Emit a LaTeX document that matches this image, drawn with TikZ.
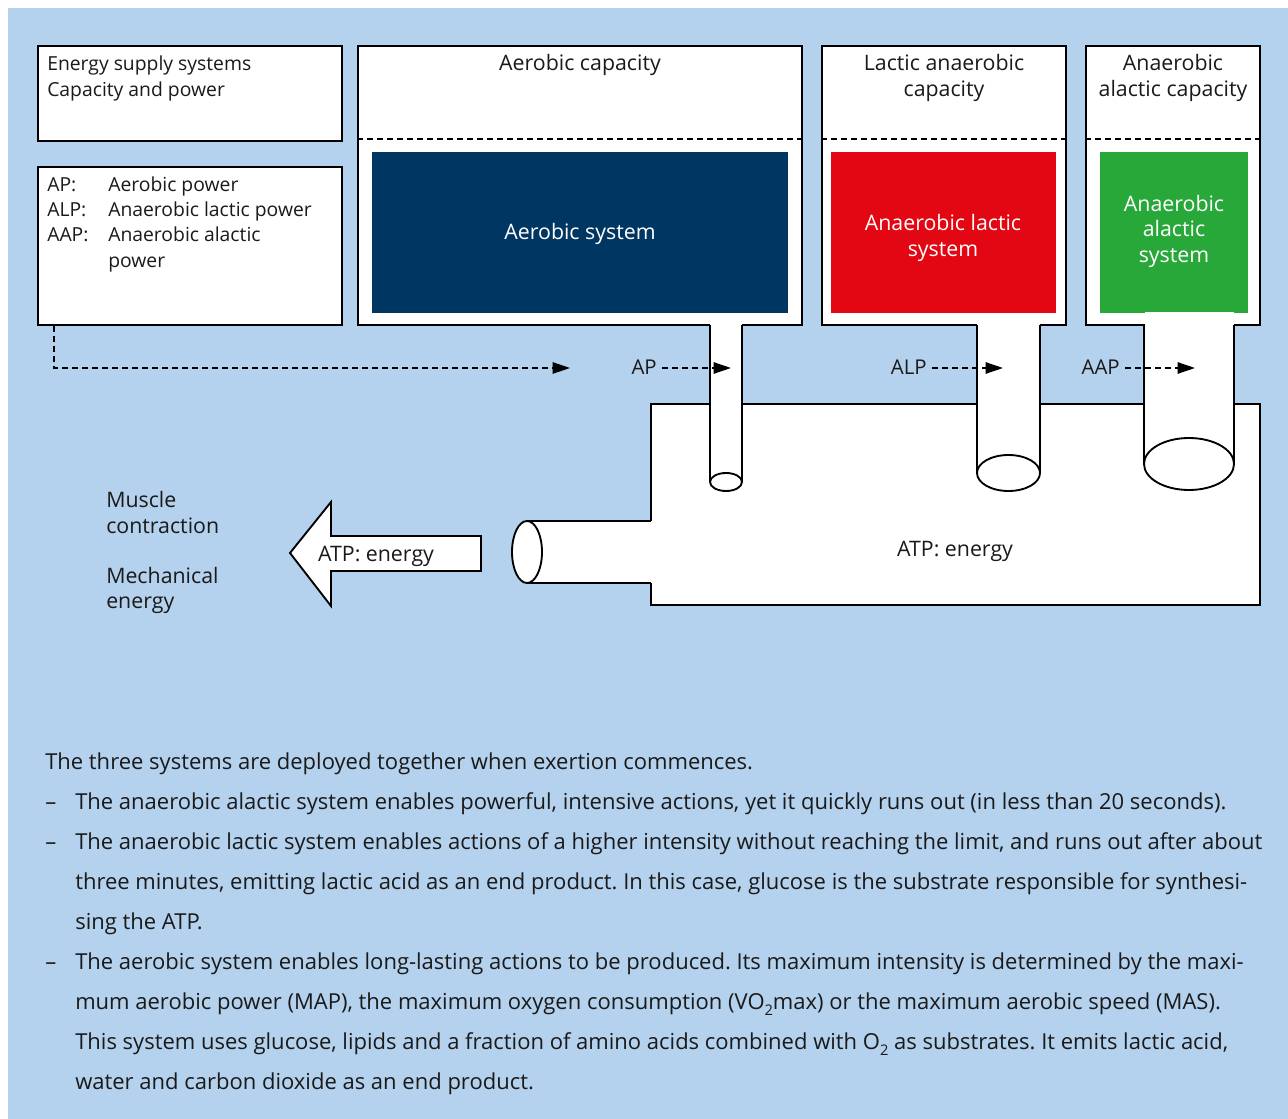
\documentclass[tikz,border=0pt]{standalone}
\usepackage{fontspec}
\setmainfont{Open Sans}
\usetikzlibrary{arrows.meta,fit}
\definecolor{bgblue}{RGB}{180,209,237}
\definecolor{sysblue}{RGB}{0,54,98}
\definecolor{sysred}{RGB}{227,6,19}
\definecolor{sysgreen}{RGB}{41,168,58}
\definecolor{ink}{RGB}{26,26,26}
\newcommand{\lowsub}[1]{\raisebox{-0.55ex}{\fontsize{11}{11}\selectfont #1}}
\tikzset{
  box/.style={draw=black, fill=white, line width=1.4pt, inner sep=0pt},
  sysbox/.style={draw=none, inner sep=0pt},
  lbl/.style={inner sep=0pt, text=ink, font=\fontsize{16}{19.5}\selectfont},
  slbl/.style={inner sep=0pt, text=ink, font=\fontsize{14.5}{19.5}\selectfont},
  plbl/.style={inner sep=0pt, text=ink, font=\fontsize{15.3}{19.5}\selectfont},
  wlbl/.style={inner sep=0pt, text=white, font=\fontsize{16}{19.5}\selectfont},
  body/.style={inner sep=0pt, anchor=base west, text=ink, font=\fontsize{16.5}{22}\selectfont\frenchspacing},
  sep/.style={draw=black, line width=1.1pt, dash pattern=on 4.5pt off 3pt},
  darr/.style={draw=black, line width=1.1pt, dash pattern=on 4.5pt off 3pt, -{Triangle[length=13pt,width=8.5pt]}},
  pipe/.style={draw=black, line width=1.4pt},
}
\begin{document}
\begin{tikzpicture}[x=0.75pt,y=-0.75pt]
\useasboundingbox (0,0) rectangle (1288,1119);
\fill[bgblue] (8,8) rectangle (1288,1119);

% top boxes
\node[box, fit={(38,46)(342,141)}] (sup) {};
\node[box, fit={(38,167)(342,325)}] (leg) {};
\node[box, fit={(358,46)(802,325)}] (aer) {};
\node[box, fit={(822,46)(1066,325)}] (lac) {};
\node[box, fit={(1086,46)(1260,325)}] (ala) {};
\draw[sep] (aer.west |- 0,139) -- (aer.east |- 0,139);
\draw[sep] (lac.west |- 0,139) -- (lac.east |- 0,139);
\draw[sep] (ala.west |- 0,139) -- (ala.east |- 0,139);
\node[sysbox, fill=sysblue, fit={(372,152)(788,313)}] (aers) {};
\node[sysbox, fill=sysred, fit={(831,152)(1056,313)}] (lacs) {};
\node[sysbox, fill=sysgreen, fit={(1100,152)(1248,313)}] (alas) {};

% main ATP box
\node[box, fit={(651,404)(1260,605)}] (atp) {};

% horizontal outlet pipe
\fill[white] (527,521) rectangle (653,583);
\draw[pipe] (527,521) -- (651,521);
\draw[pipe] (527,583) -- (651,583);
\draw[pipe, fill=white] (527,552) ellipse [x radius=15, y radius=31];

% vertical pipes
\fill[white] (710,323) rectangle (742,482);
\draw[pipe] (710,325) -- (710,482);
\draw[pipe] (742,325) -- (742,482);
\draw[pipe, fill=white] (726,482) ellipse [x radius=16, y radius=9];

\fill[white] (977,323) rectangle (1040,473);
\draw[pipe] (977,325) -- (977,473);
\draw[pipe] (1040,325) -- (1040,473);
\draw[pipe, fill=white] (1008.5,473) ellipse [x radius=31.5, y radius=18];

\fill[white] (1145,312) rectangle (1234,464);
\draw[pipe] (1144,325) -- (1144,464);
\draw[pipe] (1234,325) -- (1234,464);
\draw[pipe, fill=white] (1189,464) ellipse [x radius=45, y radius=26];

% block arrow
\draw[box, line join=miter] (481,536) -- (331,536) -- (331,502) -- (290,553) -- (331,606) -- (331,571) -- (481,571) -- cycle;

% dashed arrows
\coordinate (t0) at (570,368);
\coordinate (tap) at (731,368);
\coordinate (talp) at (1003,368);
\coordinate (taap) at (1195,368);
\draw[darr] ([xshift=12.75pt]leg.south west) |- (t0);
\node[plbl, anchor=base east] (ap) at (657,375) {AP};
\node[plbl, anchor=base east] (alp) at (927,375) {ALP};
\node[plbl, anchor=base east] (aap) at (1120,375) {AAP};
\draw[darr] ([xshift=4pt]ap.east |- tap) -- (tap);
\draw[darr] ([xshift=4pt]alp.east |- talp) -- (talp);
\draw[darr] ([xshift=4pt]aap.east |- taap) -- (taap);

% texts in boxes
\node[slbl, anchor=base west] (s1) at (47,71) {Energy supply systems};
\node[slbl, anchor=base west] (s2) at (47,97) {Capacity and power};
\node[slbl, anchor=base west] (l1a) at (47,192) {AP:};
\node[slbl, anchor=base west] (l1b) at (108,192) {Aerobic power};
\node[slbl, anchor=base west] (l2a) at (47,217) {ALP:};
\node[slbl, anchor=base west] (l2b) at (108,217) {Anaerobic lactic power};
\node[slbl, anchor=base west] (l3a) at (47,242) {AAP:};
\node[slbl, anchor=base west] (l3b) at (108,242) {Anaerobic alactic};
\node[slbl, anchor=base west] (l3c) at (108,268) {power};

\node[lbl, anchor=base] (c1) at (580,71) {Aerobic capacity};
\node[lbl, anchor=base] (c2a) at (944,71) {Lactic anaerobic};
\node[lbl, anchor=base] (c2b) at (944,97) {capacity};
\node[lbl, anchor=base] (c3a) at (1173,71) {Anaerobic};
\node[lbl, anchor=base] (c3b) at (1173,97) {alactic capacity};

\node[wlbl, anchor=base] (w1) at (580,240) {Aerobic system};
\node[wlbl, anchor=base] (w2a) at (943,231) {Anaerobic lactic};
\node[wlbl, anchor=base] (w2b) at (943,257) {system};
\node[wlbl, anchor=base] (w3a) at (1174,212) {Anaerobic};
\node[wlbl, anchor=base] (w3b) at (1174,237) {alactic};
\node[wlbl, anchor=base] (w3c) at (1174,263) {system};

\node[lbl, anchor=base] (e1) at (955,556) {ATP: energy};
\node[lbl, anchor=base] (e2) at (376,561) {ATP: energy};

\node[lbl, anchor=base west] (m1) at (106,507) {Muscle};
\node[lbl, anchor=base west] (m2) at (106,533) {contraction};
\node[lbl, anchor=base west] (m3) at (106,583) {Mechanical};
\node[lbl, anchor=base west] (m4) at (106,608) {energy};

% body text
\node[body] (b1) at (45,769) {The three systems are deployed together when exertion commences.};
\node[body] (d2) at (45,809) {–};
\node[body] (b2) at (75,809) {The anaerobic alactic system enables powerful, intensive actions, yet it quickly runs out (in less than 20 seconds).};
\node[body] (d3) at (45,849) {–};
\node[body] (b3) at (75,849) {The anaerobic lactic system enables actions of a higher intensity without reaching the limit, and runs out after about};
\node[body] (b4) at (75,889) {three minutes, emitting lactic acid as an end product. In this case, glucose is the substrate responsible for synthesi-};
\node[body] (b5) at (75,929) {sing the ATP.};
\node[body] (d6) at (45,969) {–};
\node[body] (b6) at (75,969) {The aerobic system enables long-lasting actions to be produced. Its maximum intensity is determined by the maxi-};
\node[body] (b7) at (75,1009) {mum aerobic power (MAP), the maximum oxygen consumption (VO\lowsub{2}max) or the maximum aerobic speed (MAS).};
\node[body] (b8) at (75,1049) {This system uses glucose, lipids and a fraction of amino acids combined with O\lowsub{2} as substrates. It emits lactic acid,};
\node[body] (b9) at (75,1089) {water and carbon dioxide as an end product.};
\end{tikzpicture}
\end{document}
